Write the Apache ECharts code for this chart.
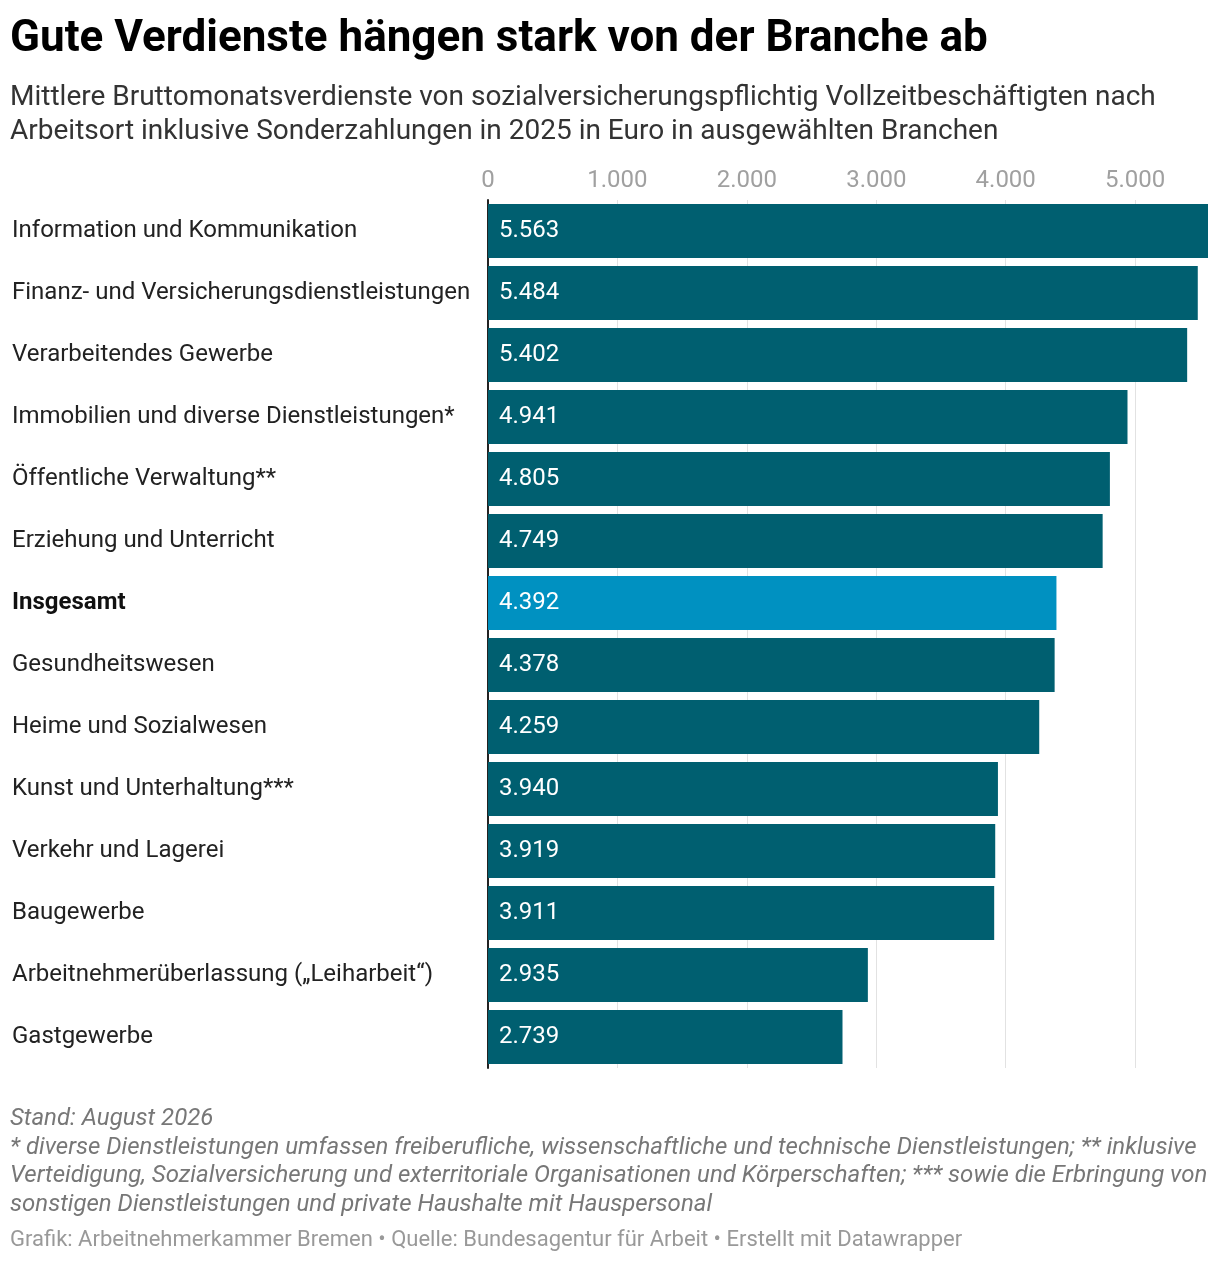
<!DOCTYPE html>
<html>
<head>
<meta charset="utf-8">
<script src="https://cdn.jsdelivr.net/npm/echarts@6/dist/echarts.min.js"></script>
<style>
  html, body { margin: 0; padding: 0; background: #fff; }
  #chart { width: 1220px; height: 1262px; }
</style>
</head>
<body>
<div id="chart"></div>
<script>
// Daten: mittlere Bruttomonatsverdienste 2025 in Euro
const branchen = [
  'Information und Kommunikation',
  'Finanz- und Versicherungsdienstleistungen',
  'Verarbeitendes Gewerbe',
  'Immobilien und diverse Dienstleistungen*',
  'Öffentliche Verwaltung**',
  'Erziehung und Unterricht',
  'Insgesamt',
  'Gesundheitswesen',
  'Heime und Sozialwesen',
  'Kunst und Unterhaltung***',
  'Verkehr und Lagerei',
  'Baugewerbe',
  'Arbeitnehmerüberlassung („Leiharbeit“)',
  'Gastgewerbe',
]
const verdienste = [5563, 5484, 5402, 4941, 4805, 4749, 4392, 4378, 4259, 3940, 3919, 3911, 2935, 2739]
const gridTicks = [1000, 2000, 3000, 4000, 5000]
const highlight = 'Insgesamt'

const FONT = 'Roboto, "Noto Sans", sans-serif'
const fmt = (v) => String(v).replace(/\B(?=(\d{3})+(?!\d))/g, '.')

const chart = echarts.init(document.getElementById('chart'), null, { renderer: 'canvas' })

chart.setOption({
  animation: false,
  textStyle: { fontFamily: FONT },
  title: [
    {
      text: 'Gute Verdienste hängen stark von der Branche ab',
      left: 10, top: 14, padding: 0,
      textStyle: { fontSize: 44, fontWeight: 'bold', color: '#000', lineHeight: 52, fontFamily: FONT },
    },
    {
      text: 'Mittlere Bruttomonatsverdienste von sozialversicherungspflichtig Vollzeitbeschäftigten nach\nArbeitsort inklusive Sonderzahlungen in 2025 in Euro in ausgewählten Branchen',
      left: 10, top: 81, padding: 0,
      textStyle: { fontSize: 28, fontWeight: 'normal', color: '#333', lineHeight: 34, fontFamily: FONT },
    },
    {
      text: 'Stand: August 2026\n* diverse Dienstleistungen umfassen freiberufliche, wissenschaftliche und technische Dienstleistungen; ** inklusive\nVerteidigung, Sozialversicherung und exterritoriale Organisationen und Körperschaften; *** sowie die Erbringung von\nsonstigen Dienstleistungen und private Haushalte mit Hauspersonal',
      left: 10, top: 1105, padding: 0,
      textStyle: { fontSize: 24, fontStyle: 'italic', fontWeight: 'normal', color: '#777', lineHeight: 28.5, fontFamily: FONT },
    },
    {
      text: 'Grafik: Arbeitnehmerkammer Bremen • Quelle: Bundesagentur für Arbeit • Erstellt mit Datawrapper',
      left: 10, top: 1228, padding: 0,
      textStyle: { fontSize: 22, fontWeight: 'normal', color: '#999', lineHeight: 24, fontFamily: FONT },
    },
  ],
  grid: { left: 488, right: 12, top: 200, bottom: 194, containLabel: false },
  xAxis: {
    type: 'value',
    position: 'top',
    min: 0, max: 5563, interval: 1000,
    axisLine: { show: false },
    axisTick: { show: false },
    splitLine: { show: false },
    axisLabel: {
      color: '#a0a0a0', fontSize: 24, margin: 7, fontFamily: FONT,
      showMaxLabel: false,
      formatter: (v) => fmt(v),
    },
  },
  yAxis: {
    type: 'category',
    data: branchen,
    inverse: true,
    axisLine: { show: true, lineStyle: { color: '#222', width: 2 } },
    axisTick: { show: false },
    axisLabel: {
      align: 'left', margin: 476, fontSize: 24, color: '#222', fontFamily: FONT,
      formatter: (v) => (v === highlight ? '{b|' + v + '}' : v),
      rich: { b: { fontWeight: 'bold', fontSize: 24, color: '#111', fontFamily: FONT } },
    },
  },
  series: [
    {
      // Gitterlinien hinter den Balken
      type: 'line', data: [], zlevel: 0, z: 1, silent: true,
      markLine: {
        silent: true, symbol: 'none',
        label: { show: false },
        lineStyle: { color: '#e2e2e2', width: 1, type: 'solid' },
        data: gridTicks.map((v) => ({ xAxis: v })),
      },
    },
    {
      type: 'bar', zlevel: 1, z: 2,
      barCategoryGap: '13%',
      data: verdienste.map((v, i) => ({
        value: v,
        itemStyle: { color: branchen[i] === highlight ? '#0091c1' : '#005f70' },
      })),
      label: {
        show: true, position: 'insideLeft', distance: 11,
        color: '#fff', fontSize: 24, fontFamily: FONT,
        formatter: (p) => fmt(p.value),
      },
    },
  ],
})
</script>
</body>
</html>
